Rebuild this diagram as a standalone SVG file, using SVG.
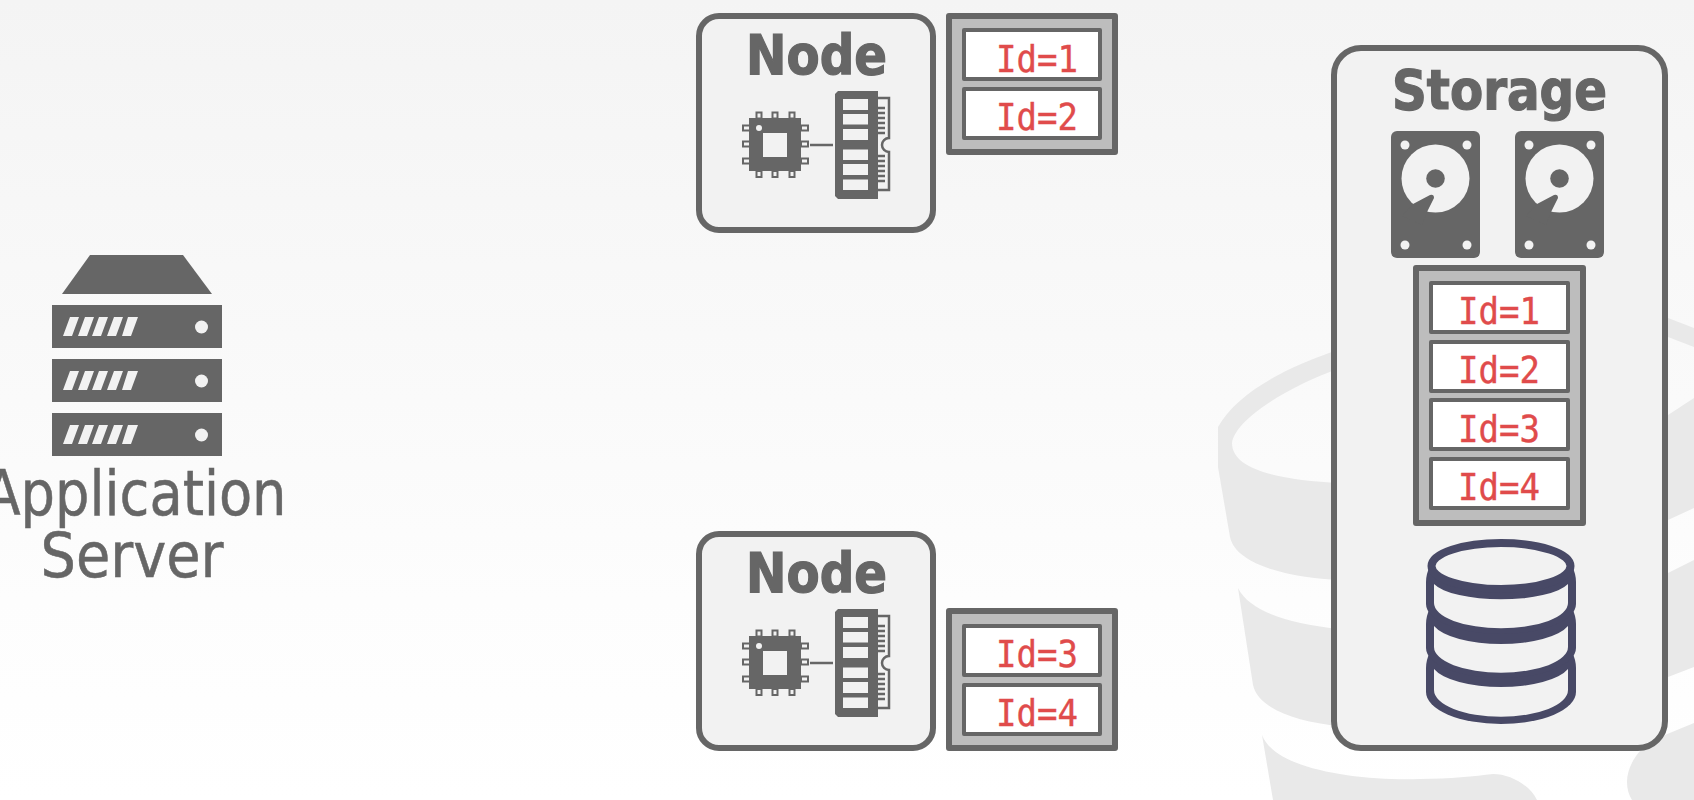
<svg xmlns="http://www.w3.org/2000/svg" xmlns:xlink="http://www.w3.org/1999/xlink" width="1694" height="800" viewBox="0 0 1694 800">
<style>
.box{fill:#f2f2f2;stroke:#666;stroke-width:6}
.tbl{fill:#bdbdbd;stroke:#666;stroke-width:6;stroke-linejoin:round}
.row{fill:#fff;stroke:#666;stroke-width:4;stroke-linejoin:round}
.id{font-family:"DejaVu Sans Mono",monospace;font-size:38px;fill:#e04b4b;stroke:#e04b4b;stroke-width:.4}
.title{font-family:"DejaVu Sans Condensed","DejaVu Sans",sans-serif;font-weight:700;font-size:55px;fill:#666;stroke:#666;stroke-width:1.200}
.app{font-family:"DejaVu Sans Condensed","DejaVu Sans",sans-serif;font-size:62px;fill:#666;stroke:#666;stroke-width:.5;text-anchor:middle}
.dk{fill:#666}
.lt{fill:#f2f2f2}
.wm{fill:#e9e9e9}
.pin{fill:#f2f2f2;stroke:#666;stroke-width:2}
.tooth{stroke:#666;stroke-width:2.500;fill:none}
.dbd{fill:#484966}
.dbl{fill:#f2f2f2}
</style>
<defs>
<linearGradient id="bg" x1="0" y1="0" x2="0" y2="1">
<stop offset="0" stop-color="#f4f4f4"/><stop offset="0.75" stop-color="#fdfdfd"/><stop offset="1" stop-color="#fff"/>
</linearGradient>
<g id="hw">
<rect class="pin" x="743" y="125.500" width="7" height="5"/><rect class="pin" x="743" y="141.500" width="7" height="5"/><rect class="pin" x="743" y="158.500" width="7" height="5"/>
<rect class="pin" x="801" y="125.500" width="7" height="5"/><rect class="pin" x="801" y="141.500" width="7" height="5"/><rect class="pin" x="801" y="158.500" width="7" height="5"/>
<rect class="pin" x="756.500" y="112.500" width="5" height="6"/><rect class="pin" x="772.500" y="112.500" width="5" height="6"/><rect class="pin" x="789.500" y="112.500" width="5" height="6"/>
<rect class="pin" x="756.500" y="171" width="5" height="6"/><rect class="pin" x="772.500" y="171" width="5" height="6"/><rect class="pin" x="789.500" y="171" width="5" height="6"/>
<rect class="dk" x="749" y="118" width="52" height="53"/>
<rect class="lt" x="763" y="133" width="24" height="24"/>
<circle class="lt" cx="759" cy="128" r="3"/>
<line x1="810" y1="145" x2="833" y2="145" stroke="#666" stroke-width="2.500"/>
<path class="dk" d="M838,91H878V199H838L835,196V94Z"/>
<rect class="lt" x="843" y="99" width="25" height="11"/><rect class="lt" x="843" y="114" width="25" height="10.500"/><rect class="lt" x="843" y="129" width="25" height="11"/><rect class="lt" x="843" y="149.500" width="25" height="10.500"/><rect class="lt" x="843" y="164" width="25" height="11"/><rect class="lt" x="843" y="179.500" width="25" height="10.500"/>
<path class="tooth" d="M878,98H889V138A7,7 0 0 0 889,152V190H878"/>
<path class="tooth" d="M878,108H885M878,113H885M878,118H885M878,123H885M878,128H885M878,133H885M878,156H885M878,161H885M878,166H885M878,171H885M878,176H885M878,181H885"/>
</g>
<g id="disk">
<rect class="dk" x="1391" y="131" width="89" height="127" rx="6"/>
<circle class="lt" cx="1405" cy="145" r="4.500"/><circle class="lt" cx="1467" cy="145" r="4.500"/><circle class="lt" cx="1405" cy="245" r="4.500"/><circle class="lt" cx="1467" cy="245" r="4.500"/>
<circle class="lt" cx="1435.500" cy="178.500" r="34"/>
<circle class="dk" cx="1435.500" cy="178.500" r="9.300"/>
<path class="dk" d="M1413,204L1430,195Q1434,194 1434,198L1427,212L1422,225L1402,216Z"/>
</g>
</defs>
<rect id="background" width="1694" height="800" fill="url(#bg)"/>
<g id="watermark">
<path class="wm" fill-rule="evenodd" d="M1218,427C1238,392 1285,368 1340,349L1668,318L1694,328V508L1668,520L1340,580C1290,578 1236,565 1230,537L1218,467ZM1232,443C1235,420 1285,388 1340,368L1668,337L1694,347V398L1668,415L1340,483C1280,480 1232,470 1232,443Z"/>
<path class="wm" d="M1238,588C1250,612 1290,624 1340,629L1668,573L1694,560V667L1668,677L1340,726C1295,722 1258,708 1253,685Z"/>
<path class="wm" d="M1262,735C1275,770 1360,781 1420,779C1450,779 1475,776 1493,774C1510,774 1530,785 1537,800H1273Z"/>
<path class="wm" d="M1694,723L1660,737C1640,745 1627,765 1627,782Q1627,792 1632,800H1694Z"/>
</g>
<g id="application-server">
<path class="dk" d="M90,255H183L212,294H62Z"/>
<rect class="dk" x="52" y="305" width="170" height="43"/><rect class="dk" x="52" y="359" width="170" height="43"/><rect class="dk" x="52" y="413" width="170" height="43"/>
<g class="lt">
<path d="M70,317H79L72,336H63ZM85,317H94L87,336H78ZM99,317H108L101,336H92ZM114,317H123L116,336H107ZM128,317H138L131,336H122Z"/>
<path d="M70,371H79L72,390H63ZM85,371H94L87,390H78ZM99,371H108L101,390H92ZM114,371H123L116,390H107ZM128,371H138L131,390H122Z"/>
<path d="M70,425H79L72,444H63ZM85,425H94L87,444H78ZM99,425H108L101,444H92ZM114,425H123L116,444H107ZM128,425H138L131,444H122Z"/>
<circle cx="201.500" cy="327" r="6.500"/><circle cx="201.500" cy="381" r="6.500"/><circle cx="201.500" cy="435" r="6.500"/>
</g>
<text class="app" x="135" y="515" textLength="303" lengthAdjust="spacingAndGlyphs">Application</text>
<text class="app" x="132" y="577">Server</text>
</g>
<g id="node-1">
<rect class="box" x="699" y="16" width="234" height="214" rx="20"/>
<text class="title" x="746" y="74" textLength="141" lengthAdjust="spacingAndGlyphs">Node</text>
<use xlink:href="#hw" href="#hw"/>
</g>
<g id="node-2">
<rect class="box" x="699" y="534" width="234" height="214" rx="20"/>
<text class="title" x="746" y="592" textLength="141" lengthAdjust="spacingAndGlyphs">Node</text>
<use xlink:href="#hw" href="#hw" y="518"/>
</g>
<g id="table-1">
<rect class="tbl" x="949" y="16" width="166" height="136"/>
<rect class="row" x="964" y="30" width="136" height="49"/><rect class="row" x="964" y="89" width="136" height="49"/>
<text class="id" x="996" y="72" textLength="82" lengthAdjust="spacingAndGlyphs">Id=1</text><text class="id" x="996" y="130" textLength="82" lengthAdjust="spacingAndGlyphs">Id=2</text>
</g>
<g id="table-2">
<rect class="tbl" x="949" y="611" width="166" height="137"/>
<rect class="row" x="964" y="626" width="136" height="49"/><rect class="row" x="964" y="685" width="136" height="49"/>
<text class="id" x="996" y="667" textLength="82" lengthAdjust="spacingAndGlyphs">Id=3</text><text class="id" x="996" y="726" textLength="82" lengthAdjust="spacingAndGlyphs">Id=4</text>
</g>
<g id="storage">
<rect class="box" x="1334" y="48" width="331" height="700" rx="27"/>
<text class="title" x="1392" y="109" textLength="215" lengthAdjust="spacingAndGlyphs">Storage</text>
<use xlink:href="#disk" href="#disk"/><use xlink:href="#disk" href="#disk" x="124"/>
<g id="storage-table">
<rect class="tbl" x="1416" y="268" width="167" height="255"/>
<rect class="row" x="1431" y="283" width="137" height="49"/><rect class="row" x="1431" y="342" width="137" height="49"/><rect class="row" x="1431" y="400" width="137" height="49"/><rect class="row" x="1431" y="459" width="137" height="49"/>
<text class="id" x="1458" y="324" textLength="82" lengthAdjust="spacingAndGlyphs">Id=1</text><text class="id" x="1458" y="383" textLength="82" lengthAdjust="spacingAndGlyphs">Id=2</text><text class="id" x="1458" y="442" textLength="82" lengthAdjust="spacingAndGlyphs">Id=3</text><text class="id" x="1458" y="500" textLength="82" lengthAdjust="spacingAndGlyphs">Id=4</text>
</g>
<g id="database">
<path class="dbd" d="M1430,652Q1426,660 1426,668V692A75,32 0 0 0 1576,692V668Q1576,660 1572,652Z"/>
<path class="dbl" d="M1434,669A70,25.400 0 0 0 1568,669V690A67,26.700 0 0 1 1434,690Z"/>
<path class="dbd" d="M1430,608Q1426,616 1426,624V648A75,30 0 0 0 1576,648V624Q1576,616 1572,608Z"/>
<path class="dbl" d="M1434,626A70,25.400 0 0 0 1568,626V647A67,25.700 0 0 1 1434,647Z"/>
<path class="dbd" d="M1430,566Q1426,574 1426,582V604A75,30 0 0 0 1576,604V582Q1576,574 1572,566Z"/>
<path class="dbl" d="M1434,584A70,21.600 0 0 0 1568,584V603A67,25.300 0 0 1 1434,603Z"/>
<ellipse cx="1501" cy="566" rx="69.500" ry="23" fill="#f2f2f2" stroke="#484966" stroke-width="8"/>
</g>
</g>
</svg>
